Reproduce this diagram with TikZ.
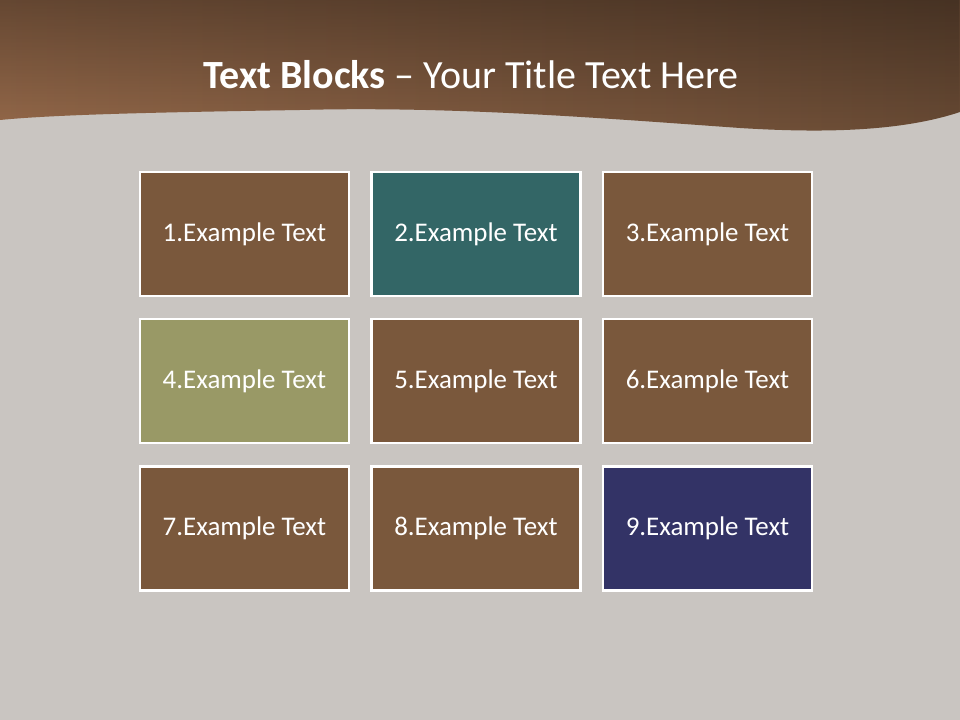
\documentclass[tikz,border=0pt]{standalone}
\usepackage{fontspec}
\usetikzlibrary{fadings}
\setmainfont{Carlito}
\definecolor{bg}{HTML}{C9C5C1}
\definecolor{bandL}{HTML}{95694A}
\definecolor{bandR}{HTML}{684A34}
\definecolor{brownbox}{HTML}{7A583C}
\definecolor{tealbox}{HTML}{336666}
\definecolor{olivebox}{HTML}{999966}
\definecolor{navybox}{HTML}{333366}
\begin{document}
\begin{tikzpicture}[x=0.75pt,y=-0.75pt,
  blk/.style={draw=white,line width=2.2pt,minimum width=209*0.75pt,minimum height=124*0.75pt,
    inner sep=0pt,text=white,font=\fontsize{20.2}{24}\selectfont},
  ttl/.style={text=white,font=\fontsize{30}{36}\selectfont},
  wave/.style={insert path={(0,0) -- (960,0) -- (960,112)
  .. controls (900,132) and (820,133) .. (740,128)
  .. controls (600,118) and (450,106) .. (300,110)
  .. controls (180,112) and (60,114) .. (0,120) -- cycle}}]
\useasboundingbox (0,0) rectangle (960,720);
\fill[bg] (0,0) rectangle (960,720);
\shade[left color=bandL,right color=bandR,wave];
\fill[black,fill opacity=0.32,path fading=south,wave];
\node[ttl] (title) at (471,75) {\textbf{Text Blocks} – Your Title Text Here};
\node[blk,fill=brownbox] (b1) at (244.5,234) {1.Example Text};
\node[blk,fill=tealbox]  (b2) at (476,234) {2.Example Text};
\node[blk,fill=brownbox] (b3) at (707.5,234) {3.Example Text};
\node[blk,fill=olivebox] (b4) at (244.5,381) {4.Example Text};
\node[blk,fill=brownbox] (b5) at (476,381) {5.Example Text};
\node[blk,fill=brownbox] (b6) at (707.5,381) {6.Example Text};
\node[blk,fill=brownbox] (b7) at (244.5,528.5) {7.Example Text};
\node[blk,fill=brownbox] (b8) at (476,528.5) {8.Example Text};
\node[blk,fill=navybox]  (b9) at (707.5,528.5) {9.Example Text};
\end{tikzpicture}
\end{document}
